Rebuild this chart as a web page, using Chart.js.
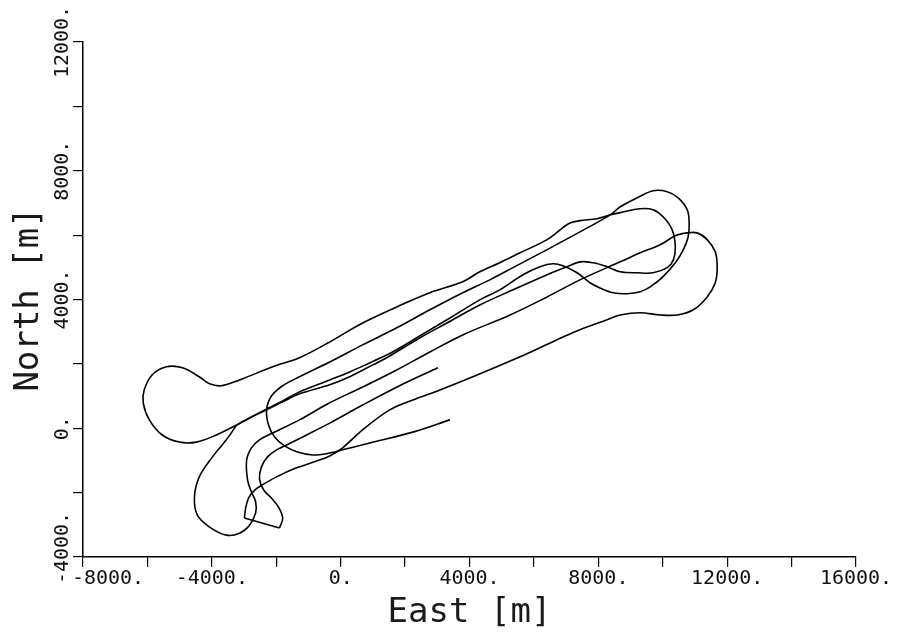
<!DOCTYPE html>
<html lang="en">
<head>
<meta charset="UTF-8">
<title>Track East / North</title>
<script src="https://cdn.jsdelivr.net/npm/chart.js"></script>
<style>
  html, body { margin: 0; padding: 0; background: #fff; }
  #wrap { width: 898px; height: 638px; position: relative; }
</style>
</head>
<body>
<div id="wrap"><canvas id="track"></canvas></div>
<script>
// flight track in metres; the pieces join end to end
// start (3000, 1900) -> south-west leg -> the little tail at the bottom
const passA1East  = [3020, 1830, 680, -340, -1120, -1680, -1990, -2270, -2460, -2520, -2390, -2150, -1930, -1800, -1900];
const passA1North = [1880, 1320, 720, 160, -240, -520, -670, -890, -1200, -1580, -1920, -2170, -2450, -2790, -3100];
// straight bit across the bottom of the tail
const tailEast  = [-1900, -2990];
const tailNorth = [-3100, -2790];
// north-east leg, east turn, back south-west, loop at the bottom left
const passA3East  = [-2990, -2950, -2860, -2670, -2430, -1990, -1370, -750, -340, 60, 680, 1520, 2240, 3080, 4010, 5570, 6720, 7430, 8270, 8680, 9300, 9920, 10450, 10950, 11380, 11630, 11690, 11630, 11380, 11070, 10760, 10390, 9920, 9300, 8680, 7430, 6410, 5260, 3790, 2770, 1740, 680, -340, -1280, -2110, -2520, -2770, -2920, -2890, -2770, -2640, -2640, -2830, -3140, -3550, -4070, -4450, -4540, -4390, -3980, -3550, -3230];
const passA3North = [-2790, -2480, -2170, -1920, -1760, -1510, -1230, -1020, -860, -610, -50, 570, 880, 1190, 1560, 2220, 2750, 3060, 3370, 3520, 3590, 3520, 3520, 3680, 4080, 4520, 5020, 5480, 5860, 6070, 6070, 5980, 5700, 5450, 5170, 4610, 4080, 3520, 2900, 2370, 1810, 1280, 790, 260, -150, -360, -610, -990, -1610, -1980, -2290, -2630, -3010, -3260, -3320, -3070, -2700, -2140, -1510, -890, -360, 100];
// out to the east, turn, top leg back, big west loop
const passBEast  = [-3230, -2830, -2300, -1800, -1280, -340, 280, 1000, 1430, 2360, 3300, 4320, 5350, 6410, 7030, 7430, 7840, 8270, 8680, 9210, 9700, 10140, 10330, 10390, 10290, 10010, 9700, 9300, 8680, 8370, 7960, 7430, 7120, 6900, 6410, 5570, 4940, 4320, 3790, 2770, 1740, 680, -340, -1280, -2110, -3140, -3700, -4070, -4390, -4910, -5410, -5850, -6100, -6130, -5940, -5540, -5010, -4480, -3860, -3230];
const passBNorth = [100, 320, 570, 820, 1070, 1350, 1600, 1970, 2190, 2750, 3270, 3830, 4300, 4770, 5020, 5170, 5140, 5020, 4860, 4830, 4830, 4990, 5230, 5640, 6170, 6570, 6790, 6820, 6700, 6630, 6510, 6450, 6380, 6230, 5860, 5450, 5140, 4860, 4550, 4210, 3770, 3270, 2680, 2190, 1910, 1500, 1320, 1380, 1600, 1880, 1910, 1660, 1190, 790, 260, -210, -430, -430, -210, 100];
// last lap, highest east loop, back west, small turn and out to the end (3400, 300)
const passCEast  = [-3230, -2830, -2300, -1800, -1280, -340, 280, 900, 1310, 1740, 2360, 3300, 4320, 4940, 5660, 6190, 6590, 6900, 7340, 7740, 8050, 8460, 8890, 9300, 9610, 10010, 10390, 10640, 10790, 10820, 10760, 10480, 10140, 9700, 9210, 8680, 8370, 7430, 6410, 5350, 4630, 3790, 2770, 1740, 680, -340, -1280, -1800, -2150, -2300, -2240, -2050, -1740, -1340, -870, -340, 60, 900, 2240, 3390];
const passCNorth = [100, 320, 600, 850, 1130, 1500, 1750, 2030, 2220, 2440, 2810, 3370, 3990, 4300, 4770, 5020, 5110, 5050, 4830, 4520, 4360, 4210, 4180, 4240, 4390, 4710, 5140, 5550, 5950, 6380, 6790, 7160, 7350, 7380, 7160, 6880, 6630, 6100, 5550, 4990, 4610, 4210, 3680, 3120, 2590, 2060, 1600, 1320, 1000, 570, 100, -270, -550, -740, -830, -770, -670, -460, -120, 260];

const xLabels = [-8000, -4000, 0, 4000, 8000, 12000, 16000];
const yLabels = [-4000, 0, 4000, 8000, 12000];

function piece(east, north) {
    return {
        data: east.map((e, i) => ({ x: e, y: north[i] })),
        showLine: true,
        borderColor: '#000',
        borderWidth: 1.6,
        pointRadius: 0,
        tension: 0.35,
        fill: false
    };
}

// labels drawn by hand so the y ones can be turned like in the plot
const tickText = {
    id: 'tickText',
    afterDraw(chart) {
        const ctx = chart.ctx;
        const xs = chart.scales.x;
        const ys = chart.scales.y;
        ctx.save();
        ctx.fillStyle = '#111';
        ctx.font = '20px "DejaVu Sans Mono", monospace';
        ctx.textAlign = 'center';
        ctx.textBaseline = 'middle';
        xLabels.forEach((v, i) => {
            const shift = i === 0 ? 25 : 0;
            ctx.fillText(v + '.', xs.getPixelForValue(v) + shift, xs.top + 22);
        });
        yLabels.forEach((v, i) => {
            const shift = i === 0 ? -9 : 0;
            ctx.save();
            ctx.translate(ys.right - 20, ys.getPixelForValue(v) + shift);
            ctx.rotate(-Math.PI / 2);
            ctx.fillText(v + '.', 0, 0);
            ctx.restore();
        });
        ctx.restore();
    }
};

const axisFont = { family: '"DejaVu Sans Mono", monospace', size: 34 };

new Chart(document.getElementById('track'), {
    type: 'scatter',
    data: {
        datasets: [
            piece(passA1East, passA1North),
            piece(tailEast, tailNorth),
            piece(passA3East, passA3North),
            piece(passBEast, passBNorth),
            piece(passCEast, passCNorth)
        ]
    },
    options: {
        responsive: true,
        maintainAspectRatio: false,
        animation: false,
        layout: { padding: { left: 0, right: 42, top: 42, bottom: 0 } },
        plugins: {
            legend: { display: false },
            tooltip: { enabled: false }
        },
        scales: {
            x: {
                type: 'linear',
                min: -8000,
                max: 16000,
                afterFit(scale) { scale.height = 81; },
                ticks: { stepSize: 2000, display: false, autoSkip: false },
                grid: { drawOnChartArea: false, drawTicks: true, tickLength: 10, color: '#000', lineWidth: 1.2 },
                border: { display: true, color: '#000', width: 1.5 },
                title: { display: true, text: 'East [m]', color: '#1a1a1a', font: axisFont, padding: { top: 0, bottom: 4 } }
            },
            y: {
                type: 'linear',
                min: -4000,
                max: 12000,
                afterFit(scale) { scale.width = 83; },
                ticks: { stepSize: 2000, display: false, autoSkip: false },
                grid: { drawOnChartArea: false, drawTicks: true, tickLength: 10, color: '#000', lineWidth: 1.2 },
                border: { display: true, color: '#000', width: 1.5 },
                title: { display: true, text: 'North [m]', color: '#1a1a1a', font: axisFont, padding: { top: 9, bottom: 0 } }
            }
        }
    },
    plugins: [tickText]
});
</script>
</body>
</html>
